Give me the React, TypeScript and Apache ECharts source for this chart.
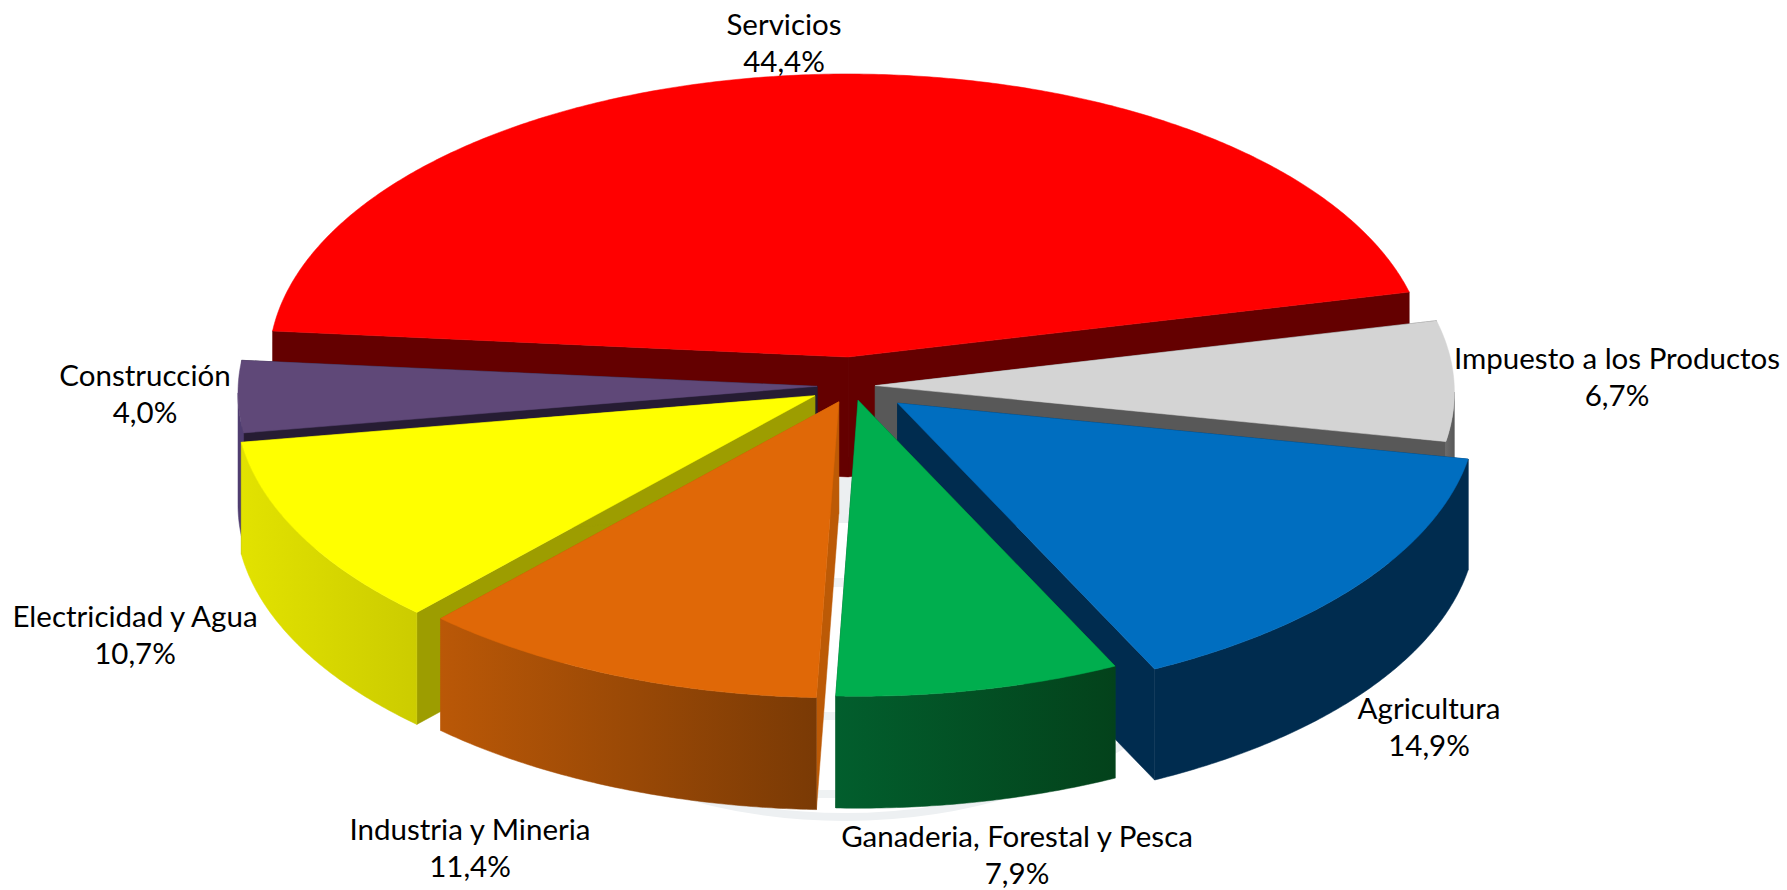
import React, { useEffect, useRef } from "react";
import * as echarts from "echarts";

const names = [
  "Servicios",
  "Impuesto a los Productos",
  "Agricultura",
  "Ganaderia, Forestal y Pesca",
  "Industria y Mineria",
  "Electricidad y Agua",
  "Construcción",
];
const values = [44.4, 6.7, 14.9, 7.9, 11.4, 10.7, 4.0];
// point explosion of every slice, as a share of the pie's radius
const explosion = [0.1, 0.04, 0.098, 0.05, 0.059, 0.072, 0.06];

const topColors = ["#FF0000", "#D4D4D4", "#006EC0", "#00AE4E", "#E06807", "#FFFF00", "#5F4878"];
const innerColors = ["#640000", "#585858", "#002C4F", "#004F22", "#BC5A06", "#9D9D00", "#261C33"];
const outerFrom = ["#640000", "#6A6A6A", "#002C4F", "#025E2D", "#BA5807", "#E2E200", "#4F3D70"];
const outerTo = ["#640000", "#585858", "#002C4F", "#03421B", "#7A3A05", "#CCCC00", "#4F3D70"];
const wallHeights = [120, 112, 111, 112, 112, 112, 112];
const labelCenters = [
  [784, 42],
  [1617, 376],
  [1429, 726],
  [1017, 854],
  [470, 847],
  [135, 634],
  [145, 393],
];

const CX = 852;
const CY = 386;
const BASE_R = 579;
const R_TILT = 13;
const SQUASH = 0.5;
const FIRST_ANGLE = 14;
const FONT = "Lato, 'Open Sans', sans-serif";

const rad = (d: number) => (d * Math.PI) / 180;
const total = values.reduce((a, b) => a + b, 0);
// Servicios runs counter-clockwise from FIRST_ANGLE, the others clockwise from it
const spans: [number, number][] = [];
{
  spans.push([FIRST_ANGLE + (values[0] / total) * 360, FIRST_ANGLE]);
  let a = FIRST_ANGLE;
  for (let i = 1; i < values.length; i++) {
    const b = a - (values[i] / total) * 360;
    spans.push([a, b]);
    a = b;
  }
}
const midAngle = (i: number) => (spans[i][0] + spans[i][1]) / 2;
// painter's order: back slices first
const drawOrder = values.map((_, i) => i).sort((p, q) => Math.sin(rad(midAngle(q))) - Math.sin(rad(midAngle(p))));

const pct = (v: number) => v.toFixed(1).replace(".", ",") + "%";

function renderSlice(_params: any, api: any) {
  const i = api.value(0);
  const a0 = api.value(1);
  const a1 = api.value(2);
  const exp = api.value(3);
  const h = wallHeights[i];
  const mid = (a0 + a1) / 2;
  const off = exp * 581;
  const ax = CX + off * Math.cos(rad(mid));
  const ay = CY - off * SQUASH * Math.sin(rad(mid));
  const pt = (deg: number): number[] => {
    // slight perspective: angles drift about one degree, the near side is larger
    const t = rad(deg - Math.cos(rad(deg)));
    const r = BASE_R - R_TILT * Math.sin(t);
    return [ax + r * Math.cos(t), ay - r * SQUASH * Math.sin(t)];
  };
  const down = (p: number[]) => [p[0], p[1] + h];
  const arc: number[][] = [];
  const steps = Math.ceil((a0 - a1) * 2);
  const angles: number[] = [];
  for (let s = 0; s <= steps; s++) angles.push(a0 + ((a1 - a0) * s) / steps);
  angles.forEach((d) => arc.push(pt(d)));
  const front = angles.filter((d) => Math.sin(rad(d)) <= 0.0001).map(pt);

  const children: any[] = [];
  const wall = (p: number[], fill: string) => ({
    type: "polygon",
    shape: { points: [[ax, ay], p, down(p), [ax, ay + h]] },
    style: { fill, stroke: fill, lineWidth: 0.5 },
  });
  children.push(wall(arc[0], innerColors[i]));
  children.push(wall(arc[arc.length - 1], innerColors[i]));
  if (front.length > 1) {
    const grad = () =>
      new echarts.graphic.LinearGradient(0, 0, 1, 0, [
        { offset: 0, color: outerFrom[i] },
        { offset: 1, color: outerTo[i] },
      ]);
    children.push({
      type: "polygon",
      shape: { points: [...front, ...front.slice().reverse().map(down)] },
      style: { fill: grad(), stroke: grad(), lineWidth: 0.5 },
    });
  }
  children.push({
    type: "polygon",
    shape: { points: [[ax, ay], ...arc] },
    style: { fill: topColors[i], stroke: topColors[i], lineWidth: 0.5 },
  });
  return { type: "group", children };
}

function renderLabel(_params: any, api: any) {
  const i = api.value(0);
  return {
    type: "text",
    x: labelCenters[i][0],
    y: labelCenters[i][1],
    style: {
      text: names[i] + "\n" + pct(values[i]),
      align: "center",
      verticalAlign: "middle",
      font: `29.5px ${FONT}`,
      lineHeight: 37.5,
      fill: "#000000",
    },
  };
}

export default function App() {
  const ref = useRef<HTMLDivElement>(null);
  useEffect(() => {
    if (!ref.current) return;
    const chart = echarts.init(ref.current, undefined, { renderer: "svg" });
    chart.setOption({
      animation: false,
      backgroundColor: "#FFFFFF",
      graphic: [
        {
          type: "ellipse",
          z: -10,
          shape: { cx: 845, cy: 447, rx: 468, ry: 370 },
          style: { fill: "none", stroke: "#EDF0F2", lineWidth: 8 },
        },
        { type: "rect", z: -10, shape: { x: 830, y: 478, width: 25, height: 45 }, style: { fill: "#ECEFF1" } },
        { type: "rect", z: -10, shape: { x: 825, y: 578, width: 30, height: 9 }, style: { fill: "#EFF2F3" } },
        { type: "rect", z: -10, shape: { x: 820, y: 712, width: 30, height: 8 }, style: { fill: "#EFF2F3" } },
        { type: "rect", z: -10, shape: { x: 815, y: 790, width: 30, height: 8 }, style: { fill: "#EFF2F3" } },
      ],
      series: [
        {
          type: "custom",
          coordinateSystem: "none",
          silent: true,
          clip: false,
          renderItem: renderSlice,
          data: drawOrder.map((i) => ({ name: names[i], value: [i, spans[i][0], spans[i][1], explosion[i]] })),
        },
        {
          type: "custom",
          coordinateSystem: "none",
          silent: true,
          clip: false,
          renderItem: renderLabel,
          data: names.map((n, i) => ({ name: n, value: [i] })),
        },
      ],
    });
    return () => chart.dispose();
  }, []);
  return <div ref={ref} style={{ position: "fixed", left: 0, top: 0, width: 1787, height: 890 }} />;
}
